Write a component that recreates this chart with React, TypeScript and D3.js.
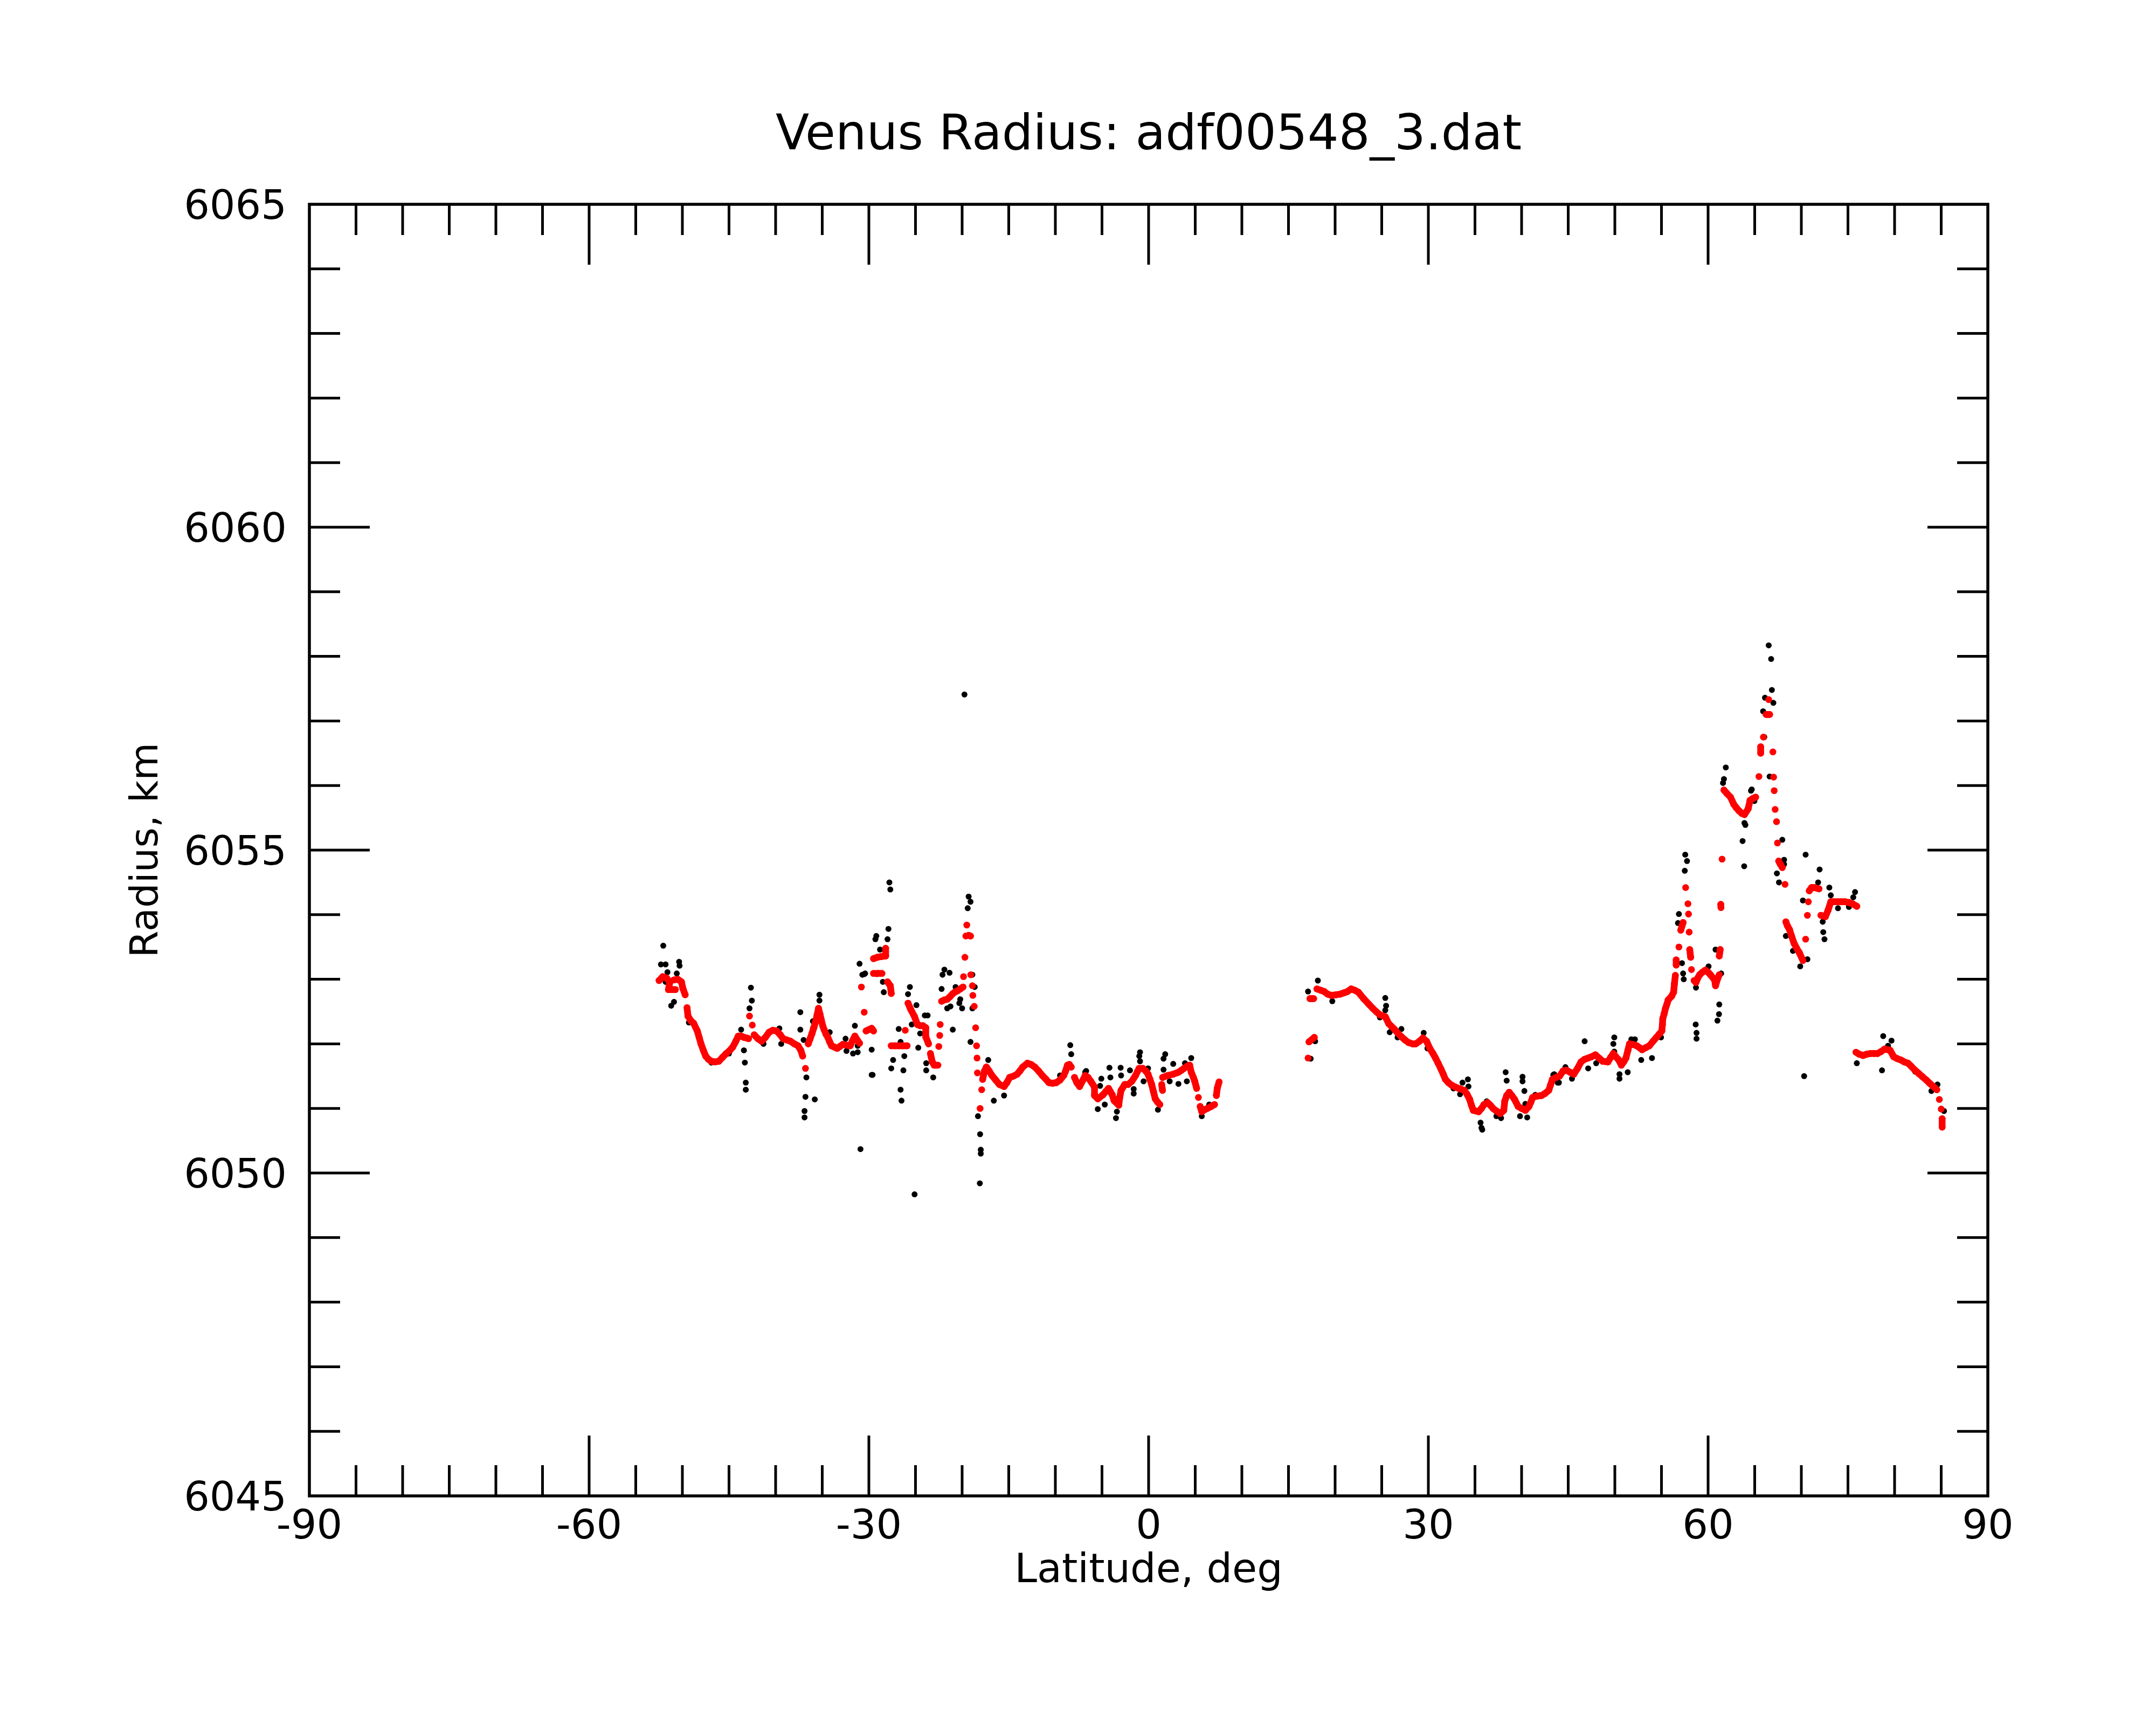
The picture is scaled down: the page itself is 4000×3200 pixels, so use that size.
import { useRef, useEffect } from 'react';
import * as d3 from 'd3';

// Smoothed radius profile (red), [latitude deg, radius km]
const smoothPoints: [number, number][] = [
  [-52.5, 6052.98], [-52.1, 6053.04], [-51.7, 6053.02], [-51.35, 6052.95],
  [-51.5, 6052.84], [-51.1, 6052.84], [-50.75, 6052.84],
  [-50.9, 6052.99], [-50.5, 6053.0], [-50.1, 6052.96],
  [-49.95, 6052.86], [-49.7, 6052.76], [-49.5, 6052.56], [-49.4, 6052.43], [-49.1, 6052.36], [-48.8, 6052.32],
  [-48.4, 6052.2], [-48.2, 6052.1], [-48.0, 6052.0], [-47.75, 6051.9], [-47.5, 6051.81], [-47.2, 6051.76],
  [-46.9, 6051.73], [-46.5, 6051.72], [-46.1, 6051.73], [-45.7, 6051.79], [-45.3, 6051.85], [-44.9, 6051.9],
  [-44.6, 6051.95], [-44.3, 6052.03], [-44.0, 6052.12], [-43.7, 6052.12], [-43.4, 6052.1], [-43.1, 6052.09],
  [-42.9, 6052.08], [-42.8, 6052.43], [-42.5, 6052.29], [-42.3, 6052.14], [-41.9, 6052.08], [-41.5, 6052.04],
  [-41.1, 6052.1], [-40.7, 6052.18], [-40.3, 6052.21], [-39.9, 6052.2], [-39.5, 6052.14], [-39.2, 6052.08],
  [-38.8, 6052.06], [-38.4, 6052.04], [-38.0, 6052.0], [-37.6, 6051.97], [-37.3, 6051.9], [-37.1, 6051.81],
  [-36.8, 6051.62], [-36.5, 6052.0], [-36.3, 6052.08], [-36.1, 6052.16], [-35.9, 6052.25], [-35.7, 6052.35],
  [-35.55, 6052.45], [-35.4, 6052.55], [-35.25, 6052.46], [-35.1, 6052.37], [-34.95, 6052.28], [-34.8, 6052.22],
  [-34.6, 6052.15], [-34.4, 6052.1], [-34.2, 6052.03], [-34.0, 6051.97], [-33.7, 6051.95], [-33.4, 6051.93],
  [-33.1, 6051.96], [-32.8, 6051.99], [-32.4, 6051.98], [-32.0, 6051.97], [-31.75, 6052.05], [-31.5, 6052.12],
  [-31.25, 6052.06], [-31.0, 6052.01],
  [-30.8, 6052.88], [-30.5, 6052.49], [-30.3, 6052.2], [-30.0, 6052.22], [-29.7, 6052.24], [-29.5, 6052.2],
  [-29.5, 6053.09], [-29.0, 6053.09], [-28.6, 6053.09],
  [-29.5, 6053.32], [-29.1, 6053.34], [-28.7, 6053.35], [-28.2, 6053.36], [-28.2, 6053.48],
  [-28.0, 6052.96], [-27.7, 6052.9], [-27.6, 6052.78],
  [-27.6, 6051.97], [-27.2, 6051.97], [-26.8, 6051.97], [-26.4, 6051.97], [-25.9, 6051.97],
  [-26.1, 6052.21],
  [-25.8, 6052.63], [-25.5, 6052.53], [-25.1, 6052.42], [-24.8, 6052.3], [-24.5, 6052.28], [-24.2, 6052.28],
  [-23.9, 6052.25], [-23.9, 6052.11], [-23.6, 6052.0], [-23.4, 6051.85], [-23.2, 6051.72], [-23.0, 6051.67],
  [-22.8, 6051.67], [-22.6, 6051.67],
  [-22.5, 6051.96], [-22.4, 6052.13], [-22.35, 6052.3],
  [-22.2, 6052.66], [-21.9, 6052.68], [-21.6, 6052.69], [-21.3, 6052.73], [-21.05, 6052.77], [-20.8, 6052.8],
  [-20.5, 6052.82], [-20.2, 6052.85], [-19.9, 6052.88],
  [-19.85, 6053.04], [-19.7, 6053.34], [-19.6, 6053.67], [-19.5, 6053.84], [-19.3, 6053.68], [-19.1, 6053.67],
  [-19.07, 6053.07], [-18.9, 6052.9], [-18.85, 6052.75], [-18.7, 6052.58], [-18.55, 6052.25], [-18.45, 6051.97],
  [-18.4, 6051.78], [-18.36, 6051.55],
  [-18.07, 6051.0], [-17.9, 6051.29], [-17.8, 6051.45], [-17.6, 6051.58], [-17.4, 6051.64], [-17.1, 6051.58],
  [-16.8, 6051.51], [-16.4, 6051.44], [-16.0, 6051.37], [-15.5, 6051.34], [-15.2, 6051.4], [-14.9, 6051.48],
  [-14.5, 6051.5], [-14.1, 6051.53], [-13.8, 6051.58], [-13.5, 6051.64], [-13.0, 6051.7], [-12.6, 6051.68],
  [-12.2, 6051.64], [-11.8, 6051.58], [-11.4, 6051.51], [-11.0, 6051.45], [-10.7, 6051.4], [-10.3, 6051.39],
  [-9.9, 6051.4], [-9.5, 6051.44], [-9.1, 6051.51], [-8.9, 6051.58], [-8.7, 6051.67], [-8.5, 6051.68],
  [-8.3, 6051.64], [-7.95, 6051.48], [-7.7, 6051.4], [-7.4, 6051.34],
  [-7.0, 6051.45], [-6.8, 6051.51], [-6.5, 6051.48], [-6.2, 6051.42], [-5.8, 6051.33], [-5.8, 6051.2],
  [-5.45, 6051.15], [-4.9, 6051.21], [-4.6, 6051.26], [-4.3, 6051.31], [-4.1, 6051.26], [-3.9, 6051.21],
  [-3.7, 6051.12], [-3.2, 6051.05], [-3.1, 6051.17], [-2.95, 6051.28], [-2.56, 6051.37], [-2.2, 6051.37],
  [-1.8, 6051.42], [-1.4, 6051.51], [-1.2, 6051.57], [-1.02, 6051.62], [-0.63, 6051.62], [-0.3, 6051.58],
  [-0.06, 6051.53], [0.14, 6051.45], [0.33, 6051.37], [0.52, 6051.26], [0.71, 6051.15], [0.95, 6051.1],
  [1.2, 6051.06],
  [1.4, 6051.37], [1.49, 6051.28],
  [1.5, 6051.48], [2.06, 6051.51], [2.64, 6051.53], [3.2, 6051.56], [3.5, 6051.59], [3.8, 6051.62],
  [4.1, 6051.65], [4.4, 6051.67], [4.57, 6051.56], [4.8, 6051.48], [4.95, 6051.42], [5.15, 6051.31],
  [5.34, 6051.17], [5.53, 6051.03], [5.7, 6050.95], [6.0, 6050.98], [6.3, 6051.0], [6.7, 6051.03],
  [7.07, 6051.06], [7.27, 6051.2], [7.36, 6051.31], [7.56, 6051.41],
  [17.1, 6051.78], [17.2, 6052.03], [17.77, 6052.1],
  [17.3, 6052.7], [17.5, 6052.7], [17.7, 6052.7],
  [18.05, 6052.85], [18.45, 6052.83], [18.83, 6052.81], [19.2, 6052.77], [19.6, 6052.75], [20.1, 6052.76],
  [20.56, 6052.77], [20.95, 6052.79], [21.33, 6052.81], [21.72, 6052.85], [22.1, 6052.83], [22.49, 6052.8],
  [23.06, 6052.7], [23.64, 6052.61], [24.03, 6052.55], [24.4, 6052.5], [24.8, 6052.45], [25.38, 6052.42],
  [25.76, 6052.31], [26.05, 6052.27], [26.34, 6052.23], [26.7, 6052.17], [27.11, 6052.11], [27.5, 6052.06],
  [27.88, 6052.02], [28.3, 6052.0], [28.65, 6052.0], [29.05, 6052.04], [29.42, 6052.09], [29.81, 6052.04],
  [30.19, 6051.92], [30.5, 6051.85], [30.77, 6051.78], [31.05, 6051.7], [31.35, 6051.61], [31.6, 6051.53],
  [31.83, 6051.45], [32.15, 6051.4], [32.5, 6051.36], [32.9, 6051.33], [33.28, 6051.31], [33.85, 6051.28],
  [34.15, 6051.22], [34.43, 6051.14], [34.62, 6051.05], [34.82, 6050.97], [35.1, 6050.96], [35.4, 6050.95],
  [35.7, 6051.0], [35.97, 6051.06], [36.36, 6051.09], [36.65, 6051.05], [36.94, 6051.0], [37.3, 6050.96],
  [37.71, 6050.92], [38.09, 6050.97], [38.19, 6051.11], [38.4, 6051.2], [38.67, 6051.25], [38.95, 6051.2],
  [39.25, 6051.14], [39.63, 6051.03], [40.0, 6051.0], [40.41, 6050.97], [40.79, 6051.03], [41.0, 6051.1],
  [41.18, 6051.17], [41.6, 6051.19], [42.14, 6051.2], [42.5, 6051.23], [42.91, 6051.28], [43.1, 6051.36],
  [43.3, 6051.45], [43.7, 6051.48], [44.07, 6051.5], [44.45, 6051.58], [44.83, 6051.59], [45.2, 6051.56],
  [45.6, 6051.53], [46.0, 6051.62], [46.37, 6051.72], [46.75, 6051.76], [47.14, 6051.78], [47.5, 6051.8],
  [47.91, 6051.83], [48.3, 6051.78], [48.7, 6051.73], [49.26, 6051.72], [49.55, 6051.79], [49.84, 6051.85],
  [50.1, 6051.8], [50.42, 6051.75], [50.7, 6051.67], [50.95, 6051.72], [51.19, 6051.78], [51.4, 6051.9],
  [51.57, 6052.0], [51.95, 6051.99], [52.35, 6051.97], [52.65, 6051.94], [52.92, 6051.91], [53.3, 6051.94],
  [53.7, 6051.97], [54.1, 6052.04], [54.46, 6052.1], [54.75, 6052.15], [55.04, 6052.2], [55.1, 6052.3],
  [55.14, 6052.39], [55.3, 6052.47], [55.43, 6052.55], [55.6, 6052.62], [55.72, 6052.68], [56.1, 6052.74],
  [56.3, 6052.8], [56.39, 6052.93], [56.49, 6053.06], [56.58, 6053.22], [56.58, 6053.3], [56.87, 6053.5],
  [57.07, 6053.76], [57.32, 6053.88],
  [57.59, 6054.42], [57.84, 6054.17], [57.9, 6054.01], [57.97, 6053.73], [58.03, 6053.46], [58.13, 6053.34],
  [58.22, 6053.15], [58.5, 6052.98], [58.7, 6052.95], [58.9, 6053.02], [59.1, 6053.07], [59.4, 6053.11],
  [59.7, 6053.14], [60.0, 6053.11], [60.25, 6053.07], [60.7, 6052.99], [60.8, 6052.9], [61.0, 6053.0],
  [61.2, 6053.07],
  [61.2, 6053.36], [61.3, 6053.46], [61.36, 6054.16], [61.38, 6054.11], [61.5, 6054.86],
  [61.7, 6055.93], [62.0, 6055.88], [62.4, 6055.82], [62.75, 6055.71], [63.0, 6055.66], [63.3, 6055.61],
  [63.6, 6055.57], [63.9, 6055.55], [64.3, 6055.64], [64.5, 6055.77], [64.8, 6055.8], [65.1, 6055.82],
  [65.45, 6056.14], [65.64, 6056.5], [65.64, 6056.6], [65.93, 6056.75], [66.22, 6057.1], [66.4, 6057.1],
  [66.6, 6057.1], [66.5, 6057.33], [66.95, 6056.52], [67.03, 6056.13], [67.09, 6055.92], [67.19, 6055.63],
  [67.34, 6055.44], [67.44, 6055.11], [67.57, 6054.83], [67.75, 6054.78], [67.96, 6054.73], [68.25, 6054.47],
  [68.34, 6053.89], [68.5, 6053.83], [68.73, 6053.77], [68.95, 6053.67], [69.21, 6053.56], [69.5, 6053.48],
  [69.79, 6053.41], [70.17, 6053.29], [70.46, 6053.62], [70.65, 6053.99], [70.75, 6054.2], [70.85, 6054.37],
  [71.1, 6054.42], [71.42, 6054.42], [71.9, 6054.4], [72.1, 6053.99], [72.35, 6053.98], [72.58, 6053.97],
  [72.87, 6054.07], [73.16, 6054.2], [73.5, 6054.2], [73.93, 6054.2], [74.3, 6054.2], [74.7, 6054.2],
  [75.1, 6054.19], [75.47, 6054.17], [75.95, 6054.13],
  [75.86, 6051.87], [76.2, 6051.84], [76.63, 6051.82], [77.0, 6051.84], [77.4, 6051.85], [77.8, 6051.85],
  [78.17, 6051.85], [78.55, 6051.88], [78.94, 6051.92], [79.25, 6051.91], [79.52, 6051.9], [79.9, 6051.8],
  [80.3, 6051.77], [80.67, 6051.75], [81.05, 6051.72], [81.44, 6051.7], [81.8, 6051.65], [82.21, 6051.59],
  [82.6, 6051.54], [82.99, 6051.49], [83.4, 6051.44], [83.76, 6051.39], [84.15, 6051.34], [84.53, 6051.29],
  [84.8, 6051.14], [85.0, 6050.99], [85.1, 6050.84], [85.1, 6050.71]
];

// Raw radius measurements left visible around the profile (black)
const rawPoints: [number, number][] = [
  [-52.05, 6053.52], [-52.3, 6053.23], [-51.8, 6053.23], [-51.6, 6053.11], [-50.35, 6053.27], [-50.3, 6053.21],
  [-50.6, 6053.09], [-51.2, 6052.59], [-50.9, 6052.65], [-51.8, 6052.96], [-49.3, 6052.33], [-46.9, 6051.71],
  [-45.0, 6051.85], [-42.65, 6052.87], [-42.55, 6052.67], [-42.8, 6052.55], [-43.7, 6052.22], [-43.4, 6051.9],
  [-43.3, 6051.71], [-43.2, 6051.4], [-43.2, 6051.29], [-41.3, 6052.0], [-39.6, 6052.24], [-39.4, 6052.0],
  [-37.35, 6052.49], [-37.35, 6052.22], [-37.0, 6052.06], [-36.7, 6051.48], [-36.8, 6051.18], [-35.8, 6051.14],
  [-36.9, 6050.96], [-36.9, 6050.86], [-35.3, 6052.76], [-35.3, 6052.67], [-36.0, 6052.35], [-36.0, 6052.24],
  [-34.2, 6052.18], [-32.5, 6052.08], [-32.4, 6051.89], [-31.7, 6051.85], [-31.2, 6051.87], [-31.5, 6052.28],
  [-31.0, 6053.24], [-30.7, 6053.07], [-30.4, 6053.09], [-30.9, 6050.37], [-29.7, 6051.91], [-29.7, 6051.52],
  [-31.2, 6051.97],
  [-19.75, 6057.41], [-27.8, 6054.5], [-27.7, 6054.39], [-19.3, 6054.28], [-19.1, 6054.2], [-19.4, 6054.1],
  [-27.9, 6053.78], [-29.2, 6053.67], [-29.3, 6053.62], [-28.0, 6053.62], [-28.8, 6053.46], [-30.5, 6053.08],
  [-29.15, 6053.08], [-28.5, 6052.96], [-28.4, 6052.8], [-21.9, 6053.15], [-22.1, 6053.07], [-21.35, 6053.1],
  [-22.2, 6052.85], [-26.8, 6052.23], [-26.6, 6052.03], [-27.4, 6051.75], [-27.6, 6051.62], [-26.2, 6051.81],
  [-26.3, 6051.59], [-26.6, 6051.29], [-26.5, 6051.12], [-29.6, 6051.52], [-25.1, 6049.67],
  [-25.6, 6052.88], [-25.8, 6052.77], [-24.9, 6052.6], [-25.4, 6052.3], [-24.7, 6051.94], [-24.0, 6052.44],
  [-23.7, 6052.44], [-24.5, 6052.16], [-23.85, 6051.7], [-23.85, 6051.59], [-23.1, 6051.48], [-21.0, 6052.22],
  [-21.6, 6052.55], [-21.25, 6052.58], [-20.3, 6052.63], [-20.0, 6052.55], [-20.7, 6052.88], [-20.2, 6052.69],
  [-18.9, 6052.55], [-18.9, 6053.07], [-18.65, 6052.88], [-19.1, 6052.03], [-18.3, 6050.88], [-18.07, 6050.6],
  [-18.0, 6050.36], [-18.0, 6050.3], [-18.1, 6049.84], [-17.2, 6051.75], [-16.6, 6051.12], [-15.5, 6051.2],
  [-8.4, 6051.98], [-8.3, 6051.84], [-9.5, 6051.51], [-6.8, 6051.56],
  [-7.4, 6051.34], [-6.7, 6051.58], [-5.45, 6050.99], [-5.07, 6051.46], [-5.2, 6051.35], [-4.7, 6051.06],
  [-4.2, 6051.63], [-4.1, 6051.48], [-3.5, 6050.85], [-3.4, 6050.95], [-3.0, 6051.63], [-2.95, 6051.51],
  [-2.0, 6051.59], [-1.6, 6051.3], [-1.6, 6051.23], [-0.92, 6051.87], [-1.0, 6051.81], [-0.92, 6051.73],
  [-0.54, 6051.42], [-0.06, 6051.62], [1.0, 6050.98], [1.78, 6051.84], [1.6, 6051.77], [1.6, 6051.6],
  [2.64, 6051.69], [2.26, 6051.42], [3.2, 6051.38], [3.9, 6051.7], [4.57, 6051.78], [4.1, 6051.42],
  [5.7, 6050.88], [6.5, 6051.06],
  [17.1, 6052.81], [18.15, 6052.98], [17.86, 6052.04], [17.38, 6051.77], [19.7, 6052.66], [25.38, 6052.71],
  [25.47, 6052.59], [25.38, 6052.52], [24.8, 6052.41], [25.86, 6052.18], [27.11, 6052.23], [26.7, 6052.1],
  [29.5, 6052.17], [29.9, 6051.93], [32.7, 6051.31], [33.4, 6051.22], [33.66, 6051.4], [34.24, 6051.45],
  [34.3, 6051.34], [35.6, 6050.78], [35.7, 6050.7], [35.78, 6050.67], [36.26, 6051.11], [37.3, 6050.88],
  [37.8, 6050.85], [38.29, 6051.56], [38.4, 6051.43], [40.1, 6051.49], [40.1, 6051.42], [40.3, 6051.27],
  [40.4, 6051.07], [39.83, 6050.88], [40.6, 6050.86], [41.47, 6051.21], [43.4, 6051.52], [43.87, 6051.4],
  [43.5, 6051.53], [44.0, 6051.4], [44.7, 6051.64], [45.4, 6051.46], [46.76, 6052.04], [47.14, 6051.62],
  [48.0, 6051.7], [49.94, 6052.1], [49.84, 6052.0], [49.94, 6051.88], [50.5, 6051.53], [50.5, 6051.46],
  [51.38, 6051.56], [51.77, 6052.07], [52.15, 6052.07], [52.83, 6051.75], [53.98, 6051.78], [54.95, 6052.1],
  [57.55, 6054.93], [57.74, 6054.83], [57.5, 6054.68], [56.87, 6054.01], [56.77, 6053.87], [57.2, 6053.25],
  [57.32, 6053.09], [57.39, 6053.0], [58.7, 6052.87], [58.67, 6052.3], [58.76, 6052.17], [58.76, 6052.08],
  [60.05, 6053.2], [60.8, 6053.46], [61.2, 6052.61], [61.17, 6052.46], [61.0, 6052.36], [61.4, 6053.09],
  [63.7, 6055.14], [63.87, 6054.75], [64.0, 6055.39], [63.9, 6055.42], [61.6, 6056.04], [64.6, 6055.92],
  [61.9, 6056.28], [61.7, 6056.1],
  [66.5, 6058.17], [66.76, 6057.96], [66.84, 6057.48], [66.1, 6057.36], [67.0, 6057.28], [65.9, 6057.15],
  [66.03, 6056.75], [64.68, 6055.94], [64.97, 6055.76], [66.6, 6056.14], [67.96, 6055.16], [68.15, 6054.85],
  [68.15, 6054.78], [67.38, 6054.64], [67.6, 6054.5], [70.46, 6054.93], [71.96, 6054.7], [71.8, 6054.5],
  [70.17, 6054.22], [73.0, 6054.42], [73.16, 6054.3], [75.76, 6054.35], [75.57, 6054.27], [73.93, 6054.1],
  [75.1, 6054.12], [72.29, 6053.89], [72.35, 6053.73], [72.48, 6053.62], [68.34, 6053.67], [69.1, 6053.44],
  [69.88, 6053.2], [70.65, 6053.31], [70.3, 6051.5], [75.95, 6051.7], [78.65, 6051.59], [78.78, 6052.12],
  [79.67, 6052.05], [79.3, 6051.97], [82.2, 6051.57], [83.95, 6051.27], [84.6, 6051.37], [85.3, 6050.96]
];

const latTicks = [-90, -60, -30, 0, 30, 60, 90];
const radiusTicks = [6045, 6050, 6055, 6060, 6065];

export default function App() {
  const svgRef = useRef<SVGSVGElement>(null);

  useEffect(() => {
    if (!svgRef.current) return;
    const width = 4000;
    const height = 3200;
    const left = 574, right = 3688, top = 379, bottom = 2775;
    const font = "'DejaVu Sans', sans-serif";

    const svg = d3.select(svgRef.current)
      .attr('width', width)
      .attr('height', height);
    svg.selectAll('*').remove();

    svg.append('rect').attr('width', width).attr('height', height).attr('fill', '#fff');

    const x = d3.scaleLinear().domain([-90, 90]).range([left, right]);
    const y = d3.scaleLinear().domain([6045, 6065]).range([bottom, top]);

    // Raw points
    svg.append('g')
      .selectAll('circle')
      .data(rawPoints)
      .join('circle')
      .attr('cx', d => x(d[0]))
      .attr('cy', d => y(d[1]))
      .attr('r', 5.5)
      .attr('fill', '#000');

    // Smoothed points: neighbouring dots merge into a thick dotted trace
    const red = svg.append('g');
    const segs: [number, number][][] = [];
    for (let i = 1; i < smoothPoints.length; i++) {
      const a = smoothPoints[i - 1], b = smoothPoints[i];
      const dx = x(b[0]) - x(a[0]);
      const dy = y(b[1]) - y(a[1]);
      if (Math.hypot(dx, dy) < 17) segs.push([a, b]);
    }
    red.selectAll('line')
      .data(segs)
      .join('line')
      .attr('x1', d => x(d[0][0]))
      .attr('y1', d => y(d[0][1]))
      .attr('x2', d => x(d[1][0]))
      .attr('y2', d => y(d[1][1]))
      .attr('stroke', '#ff0000')
      .attr('stroke-width', 12.5)
      .attr('stroke-linecap', 'round');
    red.selectAll('circle')
      .data(smoothPoints)
      .join('circle')
      .attr('cx', d => x(d[0]))
      .attr('cy', d => y(d[1]))
      .attr('r', 6.3)
      .attr('fill', '#ff0000');

    // Frame
    const axes = svg.append('g').attr('stroke', '#000').attr('stroke-width', 5);
    axes.append('rect')
      .attr('x', left).attr('y', top)
      .attr('width', right - left).attr('height', bottom - top)
      .attr('fill', 'none')
      .attr('stroke-width', 5.5);

    // x ticks, top and bottom, inward
    d3.range(-90, 91, 5).forEach(v => {
      if (v === -90 || v === 90) return;
      const len = v % 30 === 0 ? 112 : 57;
      axes.append('line').attr('x1', x(v)).attr('x2', x(v)).attr('y1', bottom).attr('y2', bottom - len);
      axes.append('line').attr('x1', x(v)).attr('x2', x(v)).attr('y1', top).attr('y2', top + len);
    });

    // y ticks, left and right, inward
    d3.range(6045, 6066, 1).forEach(v => {
      if (v === 6045 || v === 6065) return;
      const len = v % 5 === 0 ? 112 : 57;
      axes.append('line').attr('y1', y(v)).attr('y2', y(v)).attr('x1', left).attr('x2', left + len);
      axes.append('line').attr('y1', y(v)).attr('y2', y(v)).attr('x1', right).attr('x2', right - len);
    });

    // Tick labels
    svg.append('g')
      .selectAll('text')
      .data(latTicks)
      .join('text')
      .attr('x', d => x(d))
      .attr('y', 2854)
      .attr('text-anchor', 'middle')
      .style('font-family', font)
      .style('font-size', '75px')
      .text(d => String(d));

    svg.append('g')
      .selectAll('text')
      .data(radiusTicks)
      .join('text')
      .attr('x', 532)
      .attr('y', d => y(d) + 27)
      .attr('text-anchor', 'end')
      .style('font-family', font)
      .style('font-size', '75px')
      .text(d => String(d));

    // Title and axis titles
    svg.append('text')
      .attr('x', (left + right) / 2)
      .attr('y', 277)
      .attr('text-anchor', 'middle')
      .style('font-family', font)
      .style('font-size', '91px')
      .text('Venus Radius: adf00548_3.dat');

    svg.append('text')
      .attr('x', (left + right) / 2)
      .attr('y', 2935)
      .attr('text-anchor', 'middle')
      .style('font-family', font)
      .style('font-size', '75px')
      .text('Latitude, deg');

    svg.append('text')
      .attr('transform', `translate(292,${(top + bottom) / 2}) rotate(-90)`)
      .attr('text-anchor', 'middle')
      .style('font-family', font)
      .style('font-size', '72px')
      .text('Radius, km');
  }, []);

  return (
    <svg ref={svgRef} style={{ position: 'absolute', left: 0, top: 0, display: 'block' }}></svg>
  );
}
